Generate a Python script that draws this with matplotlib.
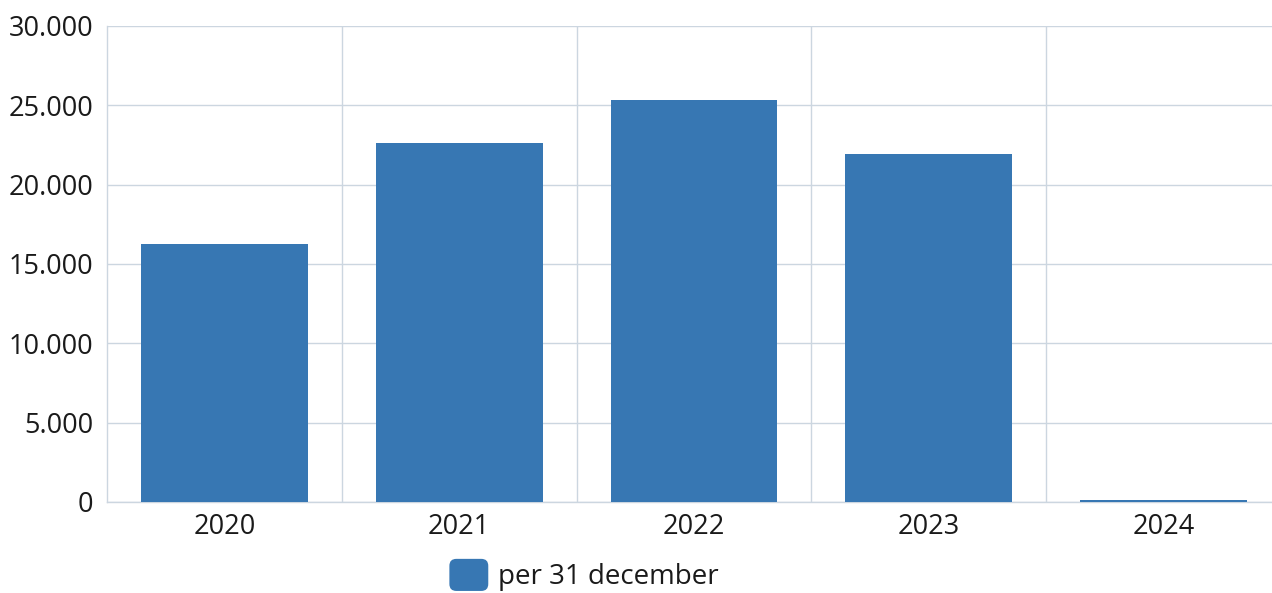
import matplotlib.pyplot as plt
from matplotlib.patches import Patch, FancyBboxPatch
from matplotlib.legend_handler import HandlerPatch
from matplotlib.ticker import FuncFormatter

plt.rcParams['font.family'] = ['Open Sans', 'DejaVu Sans']

years = ['2020', '2021', '2022', '2023', '2024']
values = [16250, 22650, 25350, 21950, 100]
series_name = 'per 31 december'
yticks = [0, 5000, 10000, 15000, 20000, 25000, 30000]

bar_color = '#3777b3'
grid_color = '#ccd6e0'
text_color = '#1a1a1a'
fs = 19.5


class RoundSquare(HandlerPatch):
    # legend marker with rounded corners
    def create_artists(self, legend, orig_handle, xdescent, ydescent,
                       width, height, fontsize, trans):
        p = FancyBboxPatch((-xdescent, -ydescent), width, height,
                           boxstyle='round,pad=0,rounding_size=5',
                           facecolor=orig_handle.get_facecolor(),
                           edgecolor='none', transform=trans)
        return [p]


fig = plt.figure(figsize=(12.72, 5.93), dpi=100)
ax = fig.add_axes([107 / 1272, 91 / 593, 1174 / 1272, 476 / 593])

x = range(len(years))
ax.bar(x, values, width=0.71, color=bar_color, zorder=3)

ax.set_xlim(-0.5, len(years) - 0.5)
ax.set_ylim(0, 30000)
ax.set_yticks(yticks)
ax.yaxis.set_major_formatter(FuncFormatter(lambda v, p: f'{int(v):,}'.replace(',', '.')))
ax.set_xticks(list(x))
ax.set_xticklabels(years)

# vertical grid at category boundaries
ax.set_xticks([i + 0.5 for i in range(len(years) - 1)], minor=True)
ax.grid(True, which='minor', axis='x', color=grid_color, lw=1, zorder=0)
ax.grid(True, which='major', axis='y', color=grid_color, lw=1, zorder=0)

for s in ['top', 'right']:
    ax.spines[s].set_visible(False)
for s in ['left', 'bottom']:
    ax.spines[s].set_color(grid_color)
    ax.spines[s].set_linewidth(1)

ax.tick_params(axis='both', which='both', length=0, labelsize=fs, colors=text_color)
ax.tick_params(axis='x', pad=8)
ax.tick_params(axis='y', pad=10)

leg = fig.legend(handles=[Patch(facecolor=bar_color, label=series_name)],
                 handler_map={Patch: RoundSquare()},
                 loc='center', bbox_to_anchor=(584 / 1272, 1 - 575 / 593),
                 frameon=False, fontsize=20, handlelength=1.4, handleheight=1.4,
                 handletextpad=0.35, borderpad=0)
for t in leg.get_texts():
    t.set_color(text_color)

fig.savefig('out.png', dpi=100)
